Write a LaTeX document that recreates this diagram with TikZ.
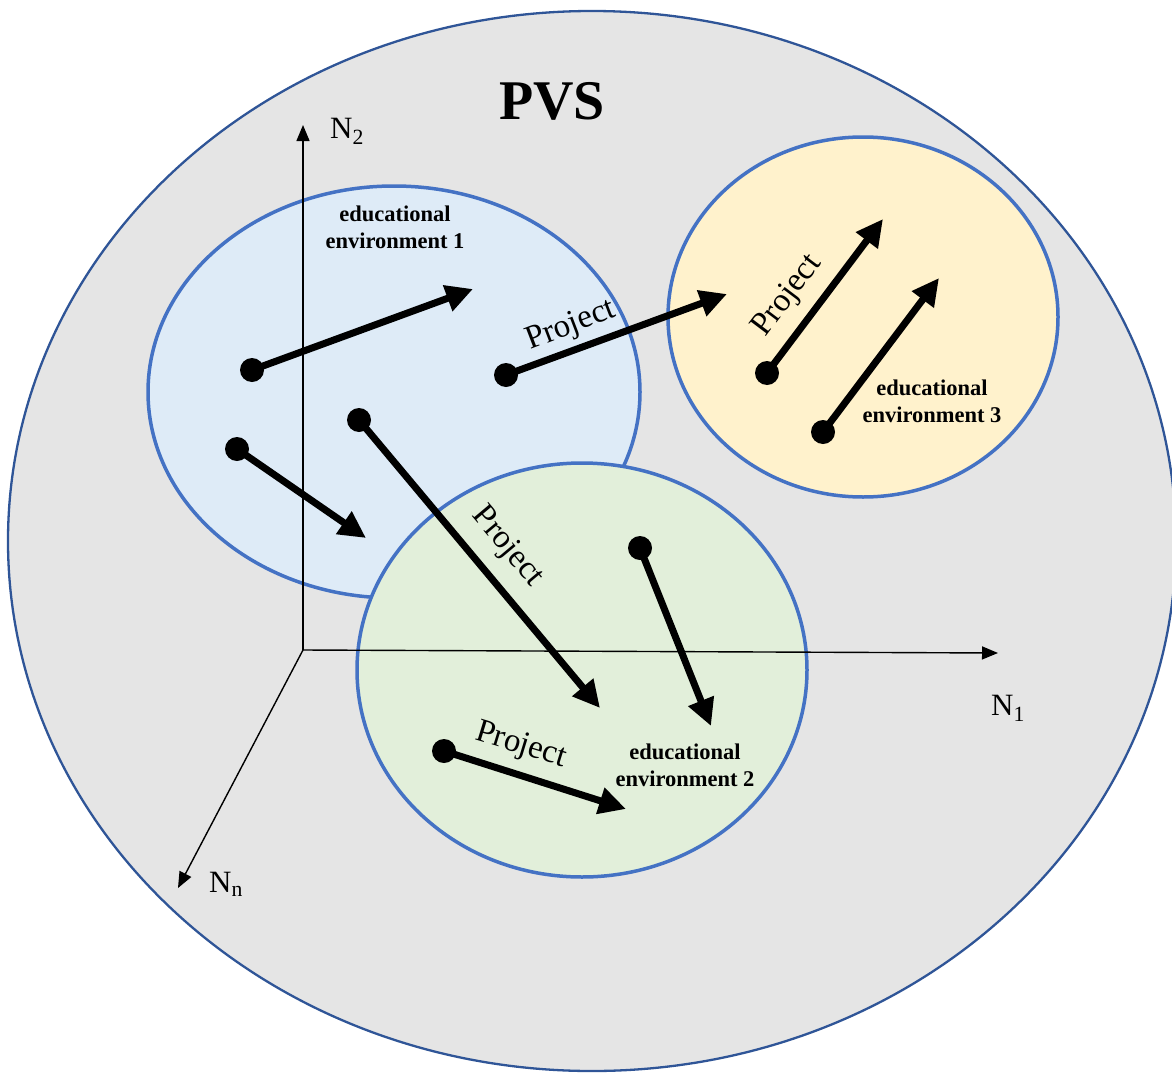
\documentclass[tikz,border=0pt]{standalone}
\usepackage{fontspec}
\setmainfont{Liberation Serif}
\usetikzlibrary{shapes.geometric,arrows.meta}
\definecolor{spacegrey}{HTML}{E5E5E5}
\definecolor{spaceline}{HTML}{2F5597}
\definecolor{envline}{HTML}{4472C4}
\definecolor{envblue}{HTML}{DEEBF7}
\definecolor{envgreen}{HTML}{E2EFDA}
\definecolor{envyellow}{HTML}{FFF2CC}
\tikzset{
  envshape/.style={ellipse, draw=envline, line width=3.5pt, inner sep=0pt},
  envlabel/.style={font=\bfseries\fontsize{22.5}{27}\selectfont, align=center, inner sep=0pt},
  axisline/.style={line width=1.4pt, -{Triangle[length=16pt,width=13pt]}},
  axislabel/.style={font=\fontsize{31}{34}\selectfont, inner sep=0pt},
  vecdot/.style={circle, fill=black, minimum size=24pt, inner sep=0pt},
  vecarrow/.style={line width=7pt, -{Triangle[length=27pt,width=26pt]}},
  projlabel/.style={font=\fontsize{33}{36}\selectfont, inner sep=0pt}
}
\begin{document}
\begin{tikzpicture}[x=1pt,y=-1pt]
\useasboundingbox (0,0) rectangle (1172,1073);

% the whole space
\node[ellipse, draw=spaceline, line width=2.3pt, fill=spacegrey, inner sep=0pt,
      minimum width=1168pt, minimum height=1060pt] (pvs) at (592,541) {};
\node[font=\bfseries\fontsize{56}{60}\selectfont, inner sep=0pt] (pvstitle) at (552,101) {PVS};

% educational environments
\node[envshape, fill=envblue, minimum width=492pt, minimum height=412pt] (env1) at (394,392) {};
\node[envshape, fill=envyellow, minimum width=390pt, minimum height=360pt] (env3) at (863,317) {};
\node[envshape, fill=envgreen, minimum width=450pt, minimum height=414pt] (env2) at (582,670) {};

\node[envlabel] (lab1) at (395,227) {educational\\environment 1};
\node[envlabel] (lab2) at (685,765) {educational\\environment 2};
\node[envlabel] (lab3) at (932,401) {educational\\environment 3};

% coordinate axes
\coordinate (o) at (303,650);
\coordinate (n2) at (303,125);
\coordinate (n1) at (998,653);
\coordinate (nn) at (178,888);
\draw[axisline] (o) -- (n2);
\draw[axisline] (o) -- (n1);
\draw[axisline] (o) -- (nn);
\node[axislabel] (n2lab) at (347,131) {N\textsubscript{2}};
\node[axislabel] (n1lab) at (1008,708) {N\textsubscript{1}};
\node[axislabel] (nnlab) at (226,884) {N\textsubscript{n}};

% vectors: start points
\node[vecdot] (a1) at (252,370) {};
\node[vecdot] (a2) at (506,375) {};
\node[vecdot] (a3) at (237,449) {};
\node[vecdot] (a4) at (359,420) {};
\node[vecdot] (a5) at (640,548) {};
\node[vecdot] (a6) at (444,751) {};
\node[vecdot] (a7) at (767,373) {};
\node[vecdot] (a8) at (823,432) {};
% vectors: end points
\coordinate (b1) at (473,289);
\coordinate (b2) at (727,294);
\coordinate (b3) at (366,538);
\coordinate (b4) at (600,708);
\coordinate (b5) at (711,726);
\coordinate (b6) at (626,809);
\coordinate (b7) at (883,219);
\coordinate (b8) at (939,278);

\foreach \i in {1,...,8}
  \draw[vecarrow] (a\i.center) -- (b\i);

% project labels
\node[projlabel, rotate=21] (p2) at (571,326) {Project};
\node[projlabel, rotate=-50] (p4) at (507,547) {Project};
\node[projlabel, rotate=-17] (p6) at (521,746) {Project};
\node[projlabel, rotate=53] (p7) at (788,296) {Project};
\end{tikzpicture}
\end{document}
